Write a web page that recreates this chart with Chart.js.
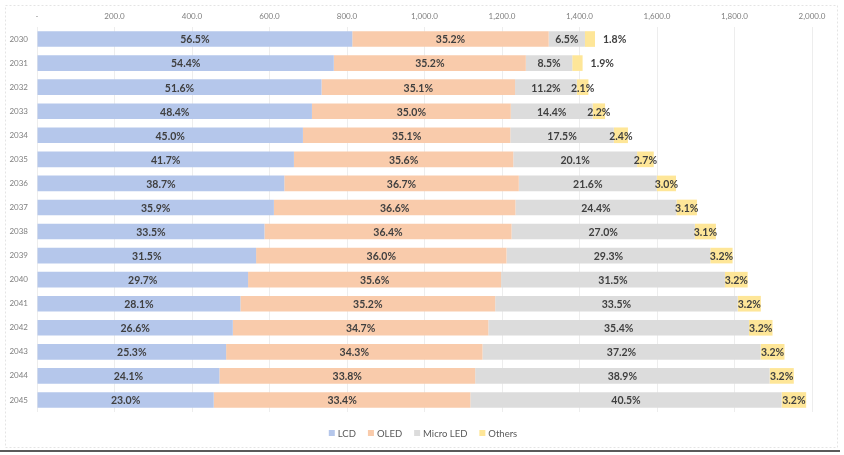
<!DOCTYPE html>
<html>
<head>
<meta charset="utf-8">
<script src="https://cdn.jsdelivr.net/npm/chart.js@4.4.1/dist/chart.umd.min.js"></script>
<style>
  body { margin: 0; background: #fff; }
  #wrap { width: 844px; height: 455px; position: relative; }
</style>
</head>
<body>
<div id="wrap"><canvas id="shareChart" width="844" height="455"></canvas></div>
<script>
// years on the category axis
const years = ['2030', '2031', '2032', '2033', '2034', '2035', '2036', '2037',
               '2038', '2039', '2040', '2041', '2042', '2043', '2044', '2045'];

// total bar length per year
const totals = [1440, 1408, 1423, 1466, 1525, 1590, 1649, 1703,
                1752, 1795, 1834, 1868, 1900, 1929, 1953, 1983];

// share of each technology, percent
const lcdShare = [56.5, 54.4, 51.6, 48.4, 45.0, 41.7, 38.7, 35.9, 33.5, 31.5, 29.7, 28.1, 26.6, 25.3, 24.1, 23.0];
const oledShare = [35.2, 35.2, 35.1, 35.0, 35.1, 35.6, 36.7, 36.6, 36.4, 36.0, 35.6, 35.2, 34.7, 34.3, 33.8, 33.4];
const microShare = [6.5, 8.5, 11.2, 14.4, 17.5, 20.1, 21.6, 24.4, 27.0, 29.3, 31.5, 33.5, 35.4, 37.2, 38.9, 40.5];
const otherShare = [1.8, 1.9, 2.1, 2.2, 2.4, 2.7, 3.0, 3.1, 3.1, 3.2, 3.2, 3.2, 3.2, 3.2, 3.2, 3.2];

const xTicks = [0, 200, 400, 600, 800, 1000, 1200, 1400, 1600, 1800, 2000];

const FONT = 'Lato, "Open Sans", sans-serif';

// bar length of a segment = total * share
const toValues = (share) => share.map((p, i) => totals[i] * p / 100);

const fmtTick = (v) => {
  if (v === 0) return '-';
  return v.toLocaleString('en-US', { minimumFractionDigits: 1, maximumFractionDigits: 1 });
};

// frame around the chart plus the dark rule at the bottom
const framePlugin = {
  id: 'frame',
  beforeDraw(chart) {
    const c = chart.ctx;
    c.save();
    c.fillStyle = '#fff';
    c.fillRect(0, 0, chart.width, chart.height);
    c.strokeStyle = '#e4e4e4';
    c.setLineDash([2, 2]);
    c.lineWidth = 1;
    c.strokeRect(5.5, 5.5, 832, 442);
    c.setLineDash([]);
    c.fillStyle = '#5a5a5a';
    c.fillRect(0, 450, 840, 2);
    c.restore();
  }
};

// percentage labels in each segment
const labelPlugin = {
  id: 'pctLabels',
  afterDatasetsDraw(chart) {
    const c = chart.ctx;
    c.save();
    c.font = 'bold 10.5px ' + FONT;
    c.fillStyle = '#3f3f3f';
    c.textBaseline = 'middle';
    chart.data.datasets.forEach((ds, di) => {
      const meta = chart.getDatasetMeta(di);
      meta.data.forEach((bar, i) => {
        const txt = ds.shares[i].toFixed(1) + '%';
        const width = Math.abs(bar.x - bar.base);
        if (di === 3 && width < 11) {
          c.textAlign = 'left';
          c.fillText(txt, bar.x + 8, bar.y + 1);
        } else {
          c.textAlign = 'center';
          c.fillText(txt, (bar.x + bar.base) / 2, bar.y + 1);
        }
      });
    });
    c.restore();
  }
};

// legend drawn by hand so it sits centred on the page
const legendPlugin = {
  id: 'pageLegend',
  afterDraw(chart) {
    const c = chart.ctx;
    c.save();
    c.font = '9.5px ' + FONT;
    c.textBaseline = 'middle';
    const box = 6, gapIn = 3, gapOut = 12;
    const items = chart.data.datasets.map(ds => ({
      text: ds.label, color: ds.backgroundColor, w: c.measureText(ds.label).width
    }));
    let total = 0;
    items.forEach((it, i) => { total += box + gapIn + it.w + (i < items.length - 1 ? gapOut : 0); });
    let x = 423 - total / 2;
    const y = 433;
    items.forEach(it => {
      c.fillStyle = it.color;
      c.fillRect(x, y - box / 2, box, box);
      x += box + gapIn;
      c.fillStyle = '#595959';
      c.textAlign = 'left';
      c.fillText(it.text, x, y + 0.5);
      x += it.w + gapOut;
    });
    c.restore();
  }
};

const ctx = document.getElementById('shareChart').getContext('2d');
const shareChart = new Chart(ctx, {
  type: 'bar',
  data: {
    labels: years,
    datasets: [
      { label: 'LCD', data: toValues(lcdShare), shares: lcdShare, backgroundColor: '#b5c7eb' },
      { label: 'OLED', data: toValues(oledShare), shares: oledShare, backgroundColor: '#f9cbab' },
      { label: 'Micro LED', data: toValues(microShare), shares: microShare, backgroundColor: '#dcdcdc' },
      { label: 'Others', data: toValues(otherShare), shares: otherShare, backgroundColor: '#fee698' }
    ]
  },
  options: {
    indexAxis: 'y',
    responsive: false,
    animation: false,
    datasets: { bar: { barPercentage: 0.65, categoryPercentage: 1.0, borderWidth: 0 } },
    layout: { padding: { top: 5, left: 0, right: 32, bottom: 43 } },
    scales: {
      x: {
        position: 'top',
        stacked: true,
        min: 0,
        max: 2000,
        afterBuildTicks: (axis) => { axis.ticks = xTicks.map(v => ({ value: v })); },
        afterFit: (axis) => { axis.height = 22; },
        border: { display: false },
        grid: { color: '#ededed', drawTicks: false },
        ticks: {
          callback: (v) => fmtTick(v),
          color: '#7f7f7f',
          font: { family: FONT, size: 8 },
          padding: 6,
          maxRotation: 0
        }
      },
      y: {
        stacked: true,
        afterFit: (axis) => { axis.width = 37; },
        border: { display: false },
        grid: { display: false, drawTicks: false },
        ticks: {
          color: '#7f7f7f',
          font: { family: FONT, size: 8 },
          padding: 9
        }
      }
    },
    plugins: {
      tooltip: { enabled: false },
      legend: { display: false }
    }
  },
  plugins: [framePlugin, labelPlugin, legendPlugin]
});
</script>
</body>
</html>
